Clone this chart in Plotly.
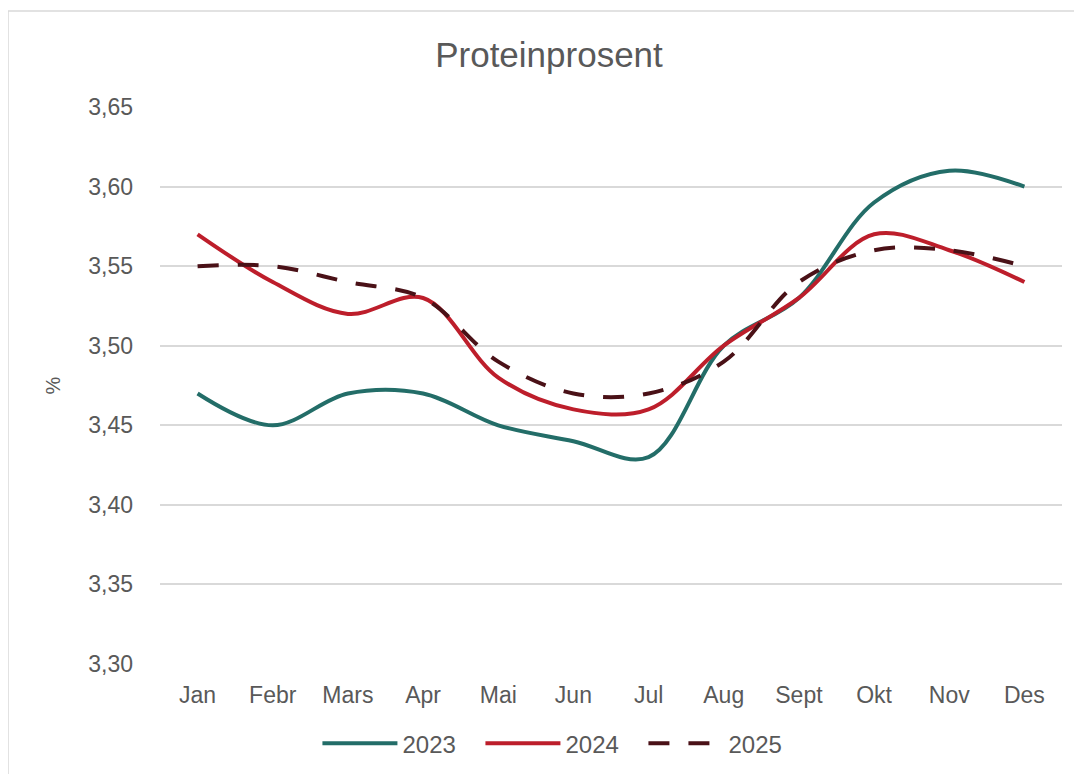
import plotly.graph_objects as go

months = ["Jan", "Febr", "Mars", "Apr", "Mai", "Jun", "Jul", "Aug", "Sept", "Okt", "Nov", "Des"]
y2023 = [3.47, 3.45, 3.47, 3.47, 3.45, 3.44, 3.43, 3.50, 3.53, 3.59, 3.61, 3.60]
y2024 = [3.57, 3.54, 3.52, 3.53, 3.48, 3.46, 3.46, 3.50, 3.53, 3.57, 3.56, 3.54]
y2025 = [3.55, 3.55, 3.54, 3.53, 3.49, 3.47, 3.47, 3.49, 3.54, 3.56, 3.56, 3.55]
y_ticks = [3.30, 3.35, 3.40, 3.45, 3.50, 3.55, 3.60, 3.65]

TEXT = "#595959"
FONT = "Liberation Sans, Arial, sans-serif"

fig = go.Figure()
fig.add_trace(go.Scatter(x=months, y=y2023, name="2023", mode="lines",
                         line=dict(color="#236D68", width=4, shape="spline", smoothing=1)))
fig.add_trace(go.Scatter(x=months, y=y2024, name="2024", mode="lines",
                         line=dict(color="#BD1E2B", width=4, shape="spline", smoothing=1)))
fig.add_trace(go.Scatter(x=months, y=y2025, name="2025", mode="lines",
                         line=dict(color="#4A1117", width=4, shape="spline", smoothing=1,
                                   dash="21px,19px")))

fig.update_layout(
    width=1082, height=774,
    margin=dict(l=152, r=28, t=99, b=118, pad=0),
    paper_bgcolor="white", plot_bgcolor="white",
    separators=", ",
    font=dict(family=FONT, color=TEXT, size=23),
    title=dict(text="Proteinprosent", x=0.5, xanchor="center", xref="container",
               y=0.939, yanchor="middle", yref="container",
               font=dict(size=35, color=TEXT, family=FONT)),
    showlegend=True,
    legend=dict(orientation="h", x=0.4456, xanchor="center", y=-0.143, yanchor="middle",
                font=dict(size=24, color=TEXT), itemwidth=75, tracegroupgap=0,
                entrywidth=73, entrywidthmode="pixels",
                bgcolor="rgba(0,0,0,0)"),
    xaxis=dict(type="category", showgrid=False, zeroline=False, showline=False,
               ticks="", tickfont=dict(size=23, color=TEXT), ticklabelstandoff=15,
               range=[-0.5, 11.5]),
    yaxis=dict(range=[3.30, 3.65], tickvals=y_ticks, tickformat=".2f",
               showgrid=True, gridcolor="#D9D9D9", gridwidth=1.5, zeroline=False,
               showline=False, ticks="", tickfont=dict(size=23, color=TEXT),
               ticklabelstandoff=26,
               title=dict(text="%", font=dict(size=20, color=TEXT), standoff=22)),
    shapes=[dict(type="rect", xref="paper", yref="paper",
                 x0=-0.1685, x1=1.05, y0=-0.25, y1=1.1724,
                 line=dict(color="#D9D9D9", width=1.5), layer="below")],
)

fig.write_html("out.html")
